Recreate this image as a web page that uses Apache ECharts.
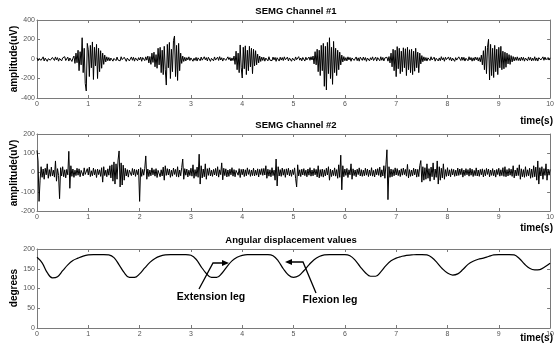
<!DOCTYPE html>
<html><head><meta charset="utf-8">
<script src="https://cdn.jsdelivr.net/npm/echarts@6/dist/echarts.min.js"></script>
<style>html,body{margin:0;padding:0;background:#fff}#c{width:557px;height:345px}</style>
</head><body><div id="c"></div>
<script>
// ---------- data ----------
const EMG_DT = 0.02;    // seconds between EMG samples
const ANGLE_DT = 0.1;   // seconds between angle samples
const xTickValues = [0,1,2,3,4,5,6,7,8,9,10];
const ch1TickValues = [-400,-200,0,200,400];
const ch2TickValues = [-200,-100,0,100,200];
const angleTickValues = [0,50,100,150,200];

const ch1Values = [
12,-18,5,20,-14,-6,22,-20,9,15,-24,3,18,-12,-20,16,8,-15,21,-9,
14,-22,6,17,-19,11,-8,24,-16,-4,19,-21,10,13,-25,8,30,-45,60,-38,
90,-120,75,-60,218,-140,110,-250,-328,160,95,-180,140,-90,175,-210,120,-70,150,-200,
110,-130,85,-95,60,-55,40,-30,22,-18,15,-20,10,18,-22,6,14,-17,20,-11,
8,-19,23,-7,-15,18,12,-24,9,16,-20,-5,21,-13,17,-22,11,7,-18,14,
-10,20,-23,15,4,-17,22,-12,30,-40,25,-55,60,-35,70,-80,45,-95,110,-60,
120,-140,90,-160,130,-110,-267,150,-90,170,-200,100,-130,190,236,-180,140,-220,160,-120,
60,-45,30,-25,18,-20,14,-9,22,-16,11,19,-23,8,-14,17,-21,12,5,-18,
20,-12,-16,23,-8,14,-20,18,10,-24,7,16,-19,21,-11,-6,19,-15,24,-10,
13,-21,9,17,-14,-18,22,-7,15,-20,11,-16,30,-55,80,-110,60,-140,144,-90,
-195,120,-100,135,-160,90,-120,130,-80,110,-150,100,-70,85,-60,50,-40,30,-25,20,
-15,18,-22,10,14,-19,23,-12,8,-17,20,-9,16,-24,13,6,-21,18,-11,15,
-16,22,-8,-14,19,-20,11,17,-23,9,14,-18,21,-7,-15,24,-12,10,-19,16,
12,-21,18,-9,-16,20,-13,23,-10,30,-50,75,-60,100,-130,90,-170,140,-120,160,
-280,130,-318,170,-150,218,-200,120,-260,180,-140,110,-170,90,-110,70,-60,40,-30,25,
-18,14,-20,22,-9,16,-23,11,18,-15,-7,21,-17,12,-22,19,8,-14,20,-12,
15,-24,10,17,-19,13,-8,22,-16,-11,20,-21,14,9,-18,23,-13,16,-20,11,
-9,18,-22,25,-40,60,-80,100,-120,90,-181,127,-100,110,-150,80,-130,115,-90,105,
-170,120,-110,95,-140,100,-160,80,-125,110,-90,70,-140,60,-50,35,-28,22,-18,15,
-21,12,17,-16,23,-10,-14,19,-22,8,15,-20,11,-17,24,-9,13,-23,18,-6,
-15,21,-12,16,-20,9,18,-24,14,-11,-19,22,10,-16,20,-13,17,-21,8,14,
-18,23,-10,15,-22,12,-17,20,-9,16,-21,14,-28,40,-60,85,-110,130,-150,120,
202,-215,150,-170,110,-190,140,-130,100,-160,120,-90,130,-110,80,-100,70,-85,60,-50,
45,-55,35,-30,25,-20,18,-14,22,-16,12,-19,20,-13,17,-22,10,15,-18,21,
-12,16,-20,9,-15,23,-17,11,-21,14,18,-10,-16,22,-13,19,-8,-20,15,-11,
12
];

const ch2Values = [
115,60,-150,-40,30,-25,18,-35,22,-12,45,-30,15,-20,28,-18,12,-24,60,-45,
20,-15,-136,25,-18,30,-22,14,-28,16,-12,110,-82,35,-20,18,-25,12,-16,22,
-14,19,-22,11,16,-18,24,-10,-15,20,-13,28,-21,9,-17,23,-12,15,-26,18,
-11,14,-20,25,-50,30,-16,12,-22,19,-14,35,-28,40,-45,55,-60,45,-35,65,
112,-75,50,-65,38,-40,22,-18,15,-24,12,19,-16,21,-13,17,-20,14,-11,18,
-150,25,-20,16,-14,22,86,-35,18,-21,13,-17,24,-12,15,-19,20,-26,11,16,
-22,14,-18,28,-40,35,-15,20,-13,18,-25,12,-19,23,-10,16,-21,30,-24,13,
-17,25,70,-35,20,-14,18,-23,12,-16,22,-19,40,-30,15,-20,28,-25,95,-60,
35,-28,18,-22,45,-35,20,-15,24,-18,12,-20,16,-13,21,-17,30,-24,14,-11,
50,-38,22,-16,19,-23,13,-20,17,-12,25,-19,15,-22,11,18,-14,20,-26,16,
-12,18,-21,14,-17,24,-10,15,-20,13,-16,22,-18,12,-14,19,-23,16,-11,20,
-15,21,-13,35,-30,17,-19,14,-22,25,-16,12,-40,70,-70,30,-18,15,-20,23,
-14,16,-25,19,-12,22,-17,13,-20,15,-11,24,-30,-75,40,-18,14,-21,17,-13,
20,-16,12,-22,18,-14,25,-19,13,-17,21,-12,16,-23,35,-28,15,-20,18,-24,
14,-18,22,-13,30,-40,17,-21,12,-16,24,-19,15,-30,40,-25,90,-90,35,-22,
18,-15,21,-26,14,-12,45,-35,19,-16,13,-22,17,-11,24,-18,15,-20,12,-17,
22,-14,18,-21,13,-16,25,-19,11,-23,17,-12,20,-15,28,-24,14,-18,35,-30,
40,118,-141,30,-25,18,-22,15,-17,24,-13,20,-16,12,-21,19,-14,23,-11,16,
-19,42,-28,15,-20,13,-17,22,-12,18,-24,16,-21,35,62,-50,30,-40,25,-35,
45,-30,20,-45,28,-22,50,-38,18,-25,60,-60,30,-40,22,-28,45,-35,15,-20,
25,-18,14,-22,19,-13,16,-20,12,-17,23,-15,18,-11,21,-24,13,-16,20,-12,
15,-19,22,-14,17,-21,11,-16,24,-18,13,-20,16,-12,19,-23,14,-17,21,-10,
18,-22,13,-15,20,-17,12,-24,16,-11,22,-19,14,-16,25,-20,30,-22,15,-18,
21,-14,17,-20,35,-28,13,-18,24,-16,40,-35,19,-22,15,-25,30,-20,14,-17,
22,-30,18,-25,35,-22,28,-40,60,-60,25,-18,30,-35,20,-15,45,-40,18,-14,
16
];

const angleValues = [
179,165,140,127,130,145,160,171,177,182,
185,186,186,186,185,178,160,140,128,128,
137,152,166,176,182,185,186,186,186,186,
184,174,155,138,128,128,138,155,170,179,
184,186,186,186,186,186,183,170,150,134,
128,132,145,160,173,181,185,186,186,186,
186,183,172,155,140,131,131,142,158,170,
177,181,184,185,186,186,185,178,165,150,
139,134,137,148,161,169,174,177,181,185,
186,186,186,185,176,162,151,147,148,155,
164
];

// ---------- chart ----------
const FONT = '"Liberation Sans", Arial, sans-serif';
const AX = '#7a7a7a';
const grids = [
  {left:37, top:20,  width:519, height:78},
  {left:37, top:134, width:519, height:77},
  {left:37, top:249, width:519, height:79}
];
const yRanges = [ch1TickValues, ch2TickValues, angleTickValues];

const xAxes = [], yAxes = [];
grids.forEach((g, i) => {
  const common = {
    type:'value', gridIndex:i, min:xTickValues[0], max:xTickValues[xTickValues.length-1],
    interval:xTickValues[1]-xTickValues[0],
    axisLine:{show:true, onZero:false, lineStyle:{color:AX, width:1}},
    axisTick:{show:true, inside:true, length:3, lineStyle:{color:AX}},
    splitLine:{show:false}
  };
  xAxes.push(Object.assign({}, common, {position:'bottom',
    axisLabel:{show:true, fontSize:7, color:'#555', fontFamily:FONT, margin:3, showMaxLabel:true}}));
  xAxes.push(Object.assign({}, common, {position:'top', axisLabel:{show:false}}));
  const yt = yRanges[i];
  const ycommon = {
    type:'value', gridIndex:i, min:yt[0], max:yt[yt.length-1], interval:yt[1]-yt[0],
    axisLine:{show:true, onZero:false, lineStyle:{color:AX, width:1}},
    axisTick:{show:true, inside:true, length:3, lineStyle:{color:AX}},
    splitLine:{show:false}
  };
  yAxes.push(Object.assign({}, ycommon, {position:'left',
    axisLabel:{show:true, fontSize:7, color:'#555', fontFamily:FONT, margin:2}}));
  yAxes.push(Object.assign({}, ycommon, {position:'right', axisLabel:{show:false}}));
});

function toPairs(vals, dt){ return vals.map((v, k) => [k*dt, v]); }

const lineSeries = (data, idx, width) => ({
  type:'line', xAxisIndex:idx*2, yAxisIndex:idx*2, data:data,
  showSymbol:false, symbol:'none', sampling:null, animation:false,
  lineStyle:{color:'#000', width:width}, clip:true
});

const boldText = (x, y, text, size, extra) => Object.assign({
  type:'text', x:x, y:y, silent:true,
  style:{text:text, fill:'#000', font:'bold '+size+'px '+FONT, textAlign:'center', textVerticalAlign:'middle'}
}, extra || {});

const rotText = (x, y, text) => ({
  type:'text', x:x, y:y, rotation:Math.PI/2, silent:true,
  style:{text:text, fill:'#000', font:'bold 10px '+FONT, textAlign:'center', textVerticalAlign:'middle'}
});

const rightText = (x, y, text) => ({
  type:'text', x:x, y:y, silent:true,
  style:{text:text, fill:'#000', font:'bold 10px '+FONT, textAlign:'right', textVerticalAlign:'middle'}
});

const graphics = [
  boldText(296, 11, 'SEMG Channel #1', 9.5),
  boldText(296, 125, 'SEMG Channel #2', 9.5),
  boldText(291, 240, 'Angular displacement values', 9.5),
  rotText(14, 59, 'amplitude(uV)'),
  rotText(14, 173, 'amplitude(uV)'),
  rotText(14, 288, 'degrees'),
  rightText(553, 121, 'time(s)'),
  rightText(553, 228, 'time(s)'),
  rightText(553, 338, 'time(s)'),
  boldText(211, 297, 'Extension leg', 10.5),
  boldText(330, 300, 'Flexion leg', 10.5),
  {type:'polyline', silent:true, shape:{points:[[199,289],[213,263],[223,263]]}, style:{stroke:'#000', lineWidth:1.3, fill:null}},
  {type:'polygon', silent:true, shape:{points:[[229,263],[222,260],[222,266]]}, style:{fill:'#000'}},
  {type:'polyline', silent:true, shape:{points:[[316,293],[303,262],[291,262]]}, style:{stroke:'#000', lineWidth:1.3, fill:null}},
  {type:'polygon', silent:true, shape:{points:[[285,262],[292,259],[292,265]]}, style:{fill:'#000'}}
];

const chart = echarts.init(document.getElementById('c'), null, {renderer:'canvas'});
chart.setOption({
  animation:false,
  backgroundColor:'#fff',
  grid:grids,
  xAxis:xAxes,
  yAxis:yAxes,
  series:[
    lineSeries(toPairs(ch1Values, EMG_DT), 0, 1),
    lineSeries(toPairs(ch2Values, EMG_DT), 1, 1),
    Object.assign(lineSeries(toPairs(angleValues, ANGLE_DT), 2, 1.2), {smooth:0.4})
  ],
  graphic:graphics
});
</script>
</body></html>
